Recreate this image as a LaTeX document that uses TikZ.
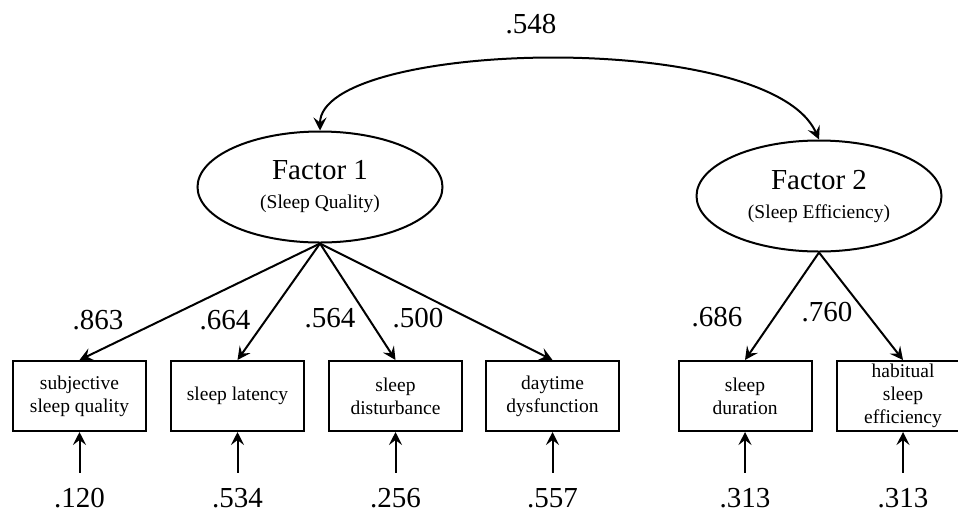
\documentclass[tikz,border=0pt]{standalone}
\usepackage{fontspec}
\setmainfont{Liberation Serif}
\usepackage{tikz}
\usetikzlibrary{positioning, arrows.meta, shapes.geometric}

\newcommand{\bigtxt}{\fontsize{29}{33}\selectfont}
\newcommand{\smalltxt}{\fontsize{19.5}{23}\selectfont}

\begin{document}
\begin{tikzpicture}[
		x=1pt,
		y=-1pt,
		font=\bigtxt,
		conn/.style={-{Stealth[length=13pt, width=13pt, inset=5pt]}, line width=2pt},
		both/.style={{Stealth[length=13pt, width=13pt, inset=5pt]}-{Stealth[length=13pt, width=13pt, inset=5pt]}, line width=2pt},
		factor/.style={draw, ellipse, line width=2pt, minimum width=245pt, minimum height=111pt, inner sep=0pt, align=center},
		item/.style={draw, line width=2pt, minimum width=133pt, minimum height=70pt, inner sep=0pt, align=center, font=\smalltxt},
		err/.style={inner sep=0pt, minimum height=50pt},
		load/.style={inner sep=0pt}
		]
		\useasboundingbox (0,0) rectangle (958,512);
		
		% Factors
		\node[factor] (f1) at (320,187) {Factor 1\\[-4pt]{\smalltxt (Sleep Quality)}};
		\node[factor] (f2) at (819,196) {Factor 2\\[-4pt]{\smalltxt (Sleep Efficiency)}};
		
		% Covariance
		\node[load] (lcov) at (531,24) {.548};
		\draw[both] (f1.north) .. controls (320,40) and (770,28) .. (f2.north);
		
		% Items
		\node[item] (b1) at (79.5,396) {subjective\\sleep quality};
		\node[item] (b2) at (237.5,396) {sleep latency};
		\node[item] (b3) at (395.5,396) {sleep\\disturbance};
		\node[item] (b4) at (552.5,396) {daytime\\dysfunction};
		\node[item] (b5) at (745,396) {sleep\\duration};
		\node[item] (b6) at (903,396) {habitual\\sleep\\efficiency};
		
		% Loadings
		\draw[conn] (f1.south) -- (b1.north);
		\draw[conn] (f1.south) -- (b2.north);
		\draw[conn] (f1.south) -- (b3.north);
		\draw[conn] (f1.south) -- (b4.north);
		\draw[conn] (f2.south) -- (b5.north);
		\draw[conn] (f2.south) -- (b6.north);
		
		\node[load] (l1) at (98,320) {.863};
		\node[load] (l2) at (225,320) {.664};
		\node[load] (l3) at (330,318) {.564};
		\node[load] (l4) at (418,318) {.500};
		\node[load] (l5) at (717,317) {.686};
		\node[load] (l6) at (827,312) {.760};
		
		% Errors
		\foreach \i/\v/\x in {1/.120/79.5, 2/.534/237.5, 3/.256/395.5, 4/.557/552.5, 5/.313/745, 6/.313/903}{
			\node[err] (e\i) at (\x,498) {\v};
			\draw[conn] (e\i.north) -- (b\i.south);
		}
	\end{tikzpicture}
\end{document}
